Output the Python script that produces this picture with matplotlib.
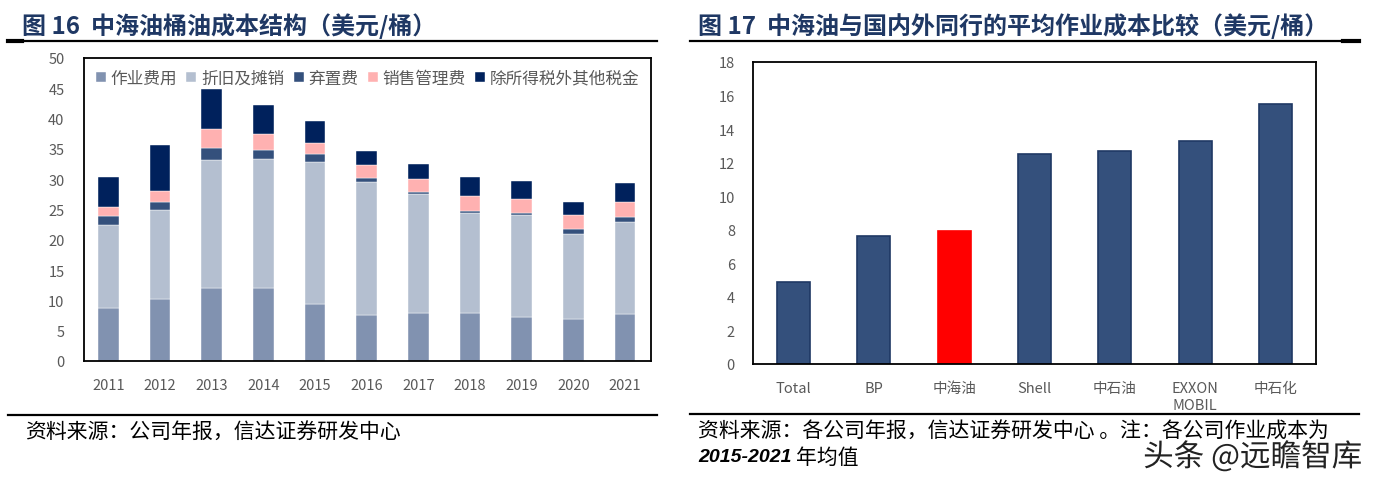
import numpy as np
import matplotlib
matplotlib.use("Agg")
import matplotlib.pyplot as plt
from matplotlib.lines import Line2D
import matplotlib.patheffects as pe

plt.rcParams['font.family'] = ['Noto Sans CJK SC', 'DejaVu Sans']

# 图16 中海油桶油成本结构（美元/桶）
years = ['2011', '2012', '2013', '2014', '2015', '2016', '2017', '2018', '2019', '2020', '2021']
op_cost = [8.8, 10.3, 12.1, 12.0, 9.4, 7.6, 7.9, 8.0, 7.2, 6.9, 7.7]
depreciation = [13.6, 14.6, 21.1, 21.4, 23.5, 22.0, 19.7, 16.4, 16.9, 14.0, 15.3]
abandonment = [1.6, 1.4, 1.9, 1.5, 1.3, 0.6, 0.3, 0.4, 0.4, 0.8, 0.7]
sga = [1.4, 1.7, 3.2, 2.6, 1.8, 2.1, 2.1, 2.4, 2.3, 2.4, 2.5]
other_tax = [5.0, 7.6, 6.6, 4.7, 3.6, 2.3, 2.5, 3.1, 2.9, 2.2, 3.2]
series_names = ['作业费用', '折旧及摊销', '弃置费', '销售管理费', '除所得税外其他税金']

# 图17 平均作业成本比较（美元/桶）
companies = ['Total', 'BP', '中海油', 'Shell', '中石油', 'EXXON\nMOBIL', '中石化']
avg_cost = [4.87, 7.6, 7.9, 12.5, 12.67, 13.32, 15.47]

W, H = 1374, 485
fig = plt.figure(figsize=(W / 100, H / 100), dpi=100)
fig.patch.set_facecolor('white')

def box(x0, y0, x1, y1):
    # 像素框（左上为原点）-> figure 坐标
    return [x0 / W, 1 - y1 / H, (x1 - x0) / W, (y1 - y0) / H]

def hline(x0, x1, y, lw=1.6):
    fig.add_artist(Line2D([x0 / W, x1 / W], [1 - y / H, 1 - y / H],
                          transform=fig.transFigure, color='black', lw=lw))

title_color = '#1F3864'
tick_color = '#595959'

# ---------- 左图 ----------
fig.text(22 / W, 1 - 26 / H, '图 16  中海油桶油成本结构（美元/桶）', fontsize=17.3,
         fontweight='bold', color=title_color, va='center', ha='left')
hline(8, 657, 42)
hline(8, 22, 42, lw=3)

ax1 = fig.add_axes(box(84, 59, 651, 362))
x = np.arange(len(years))
colors1 = ['#8192B0', '#B4BFD0', '#34507C', '#FFB1B1', '#00215C']
bottom = np.zeros(len(years))
for vals, name, c in zip([op_cost, depreciation, abandonment, sga, other_tax], series_names, colors1):
    ax1.bar(x, vals, width=0.4, bottom=bottom, color=c, label=name, edgecolor='white', linewidth=0.3)
    bottom += np.array(vals)
ax1.set_xlim(-0.47, 10.5)
ax1.set_ylim(0, 50)
ax1.set_yticks(range(0, 51, 5))
ax1.set_xticks(x)
ax1.set_xticklabels(years)
ax1.tick_params(length=0, labelsize=10.5, colors=tick_color, pad=12)
ax1.tick_params(axis='y', pad=14)
for s in ax1.spines.values():
    s.set_linewidth(1.3)
    s.set_color('black')
leg = ax1.legend(loc='upper left', ncol=5, frameon=False, fontsize=12,
                 handlelength=0.6, handleheight=0.6, handletextpad=0.3,
                 columnspacing=0.55, borderaxespad=0.3, bbox_to_anchor=(0.0, 1.0))
for t in leg.get_texts():
    t.set_color(tick_color)

hline(8, 657, 416)
fig.text(25 / W, 1 - 432 / H, '资料来源：公司年报，信达证券研发中心', fontsize=15,
         style='italic', va='center', ha='left', color='black')

# ---------- 右图 ----------
fig.text(698 / W, 1 - 26 / H, '图 17  中海油与国内外同行的平均作业成本比较（美元/桶）', fontsize=17.3,
         fontweight='bold', color=title_color, va='center', ha='left')
hline(690, 1359, 42)
hline(1343, 1359, 42, lw=3)

ax2 = fig.add_axes(box(753, 63, 1316, 365))
x2 = np.arange(len(companies))
colors2 = ['#34507C'] * len(companies)
colors2[companies.index('中海油')] = '#FF0000'
edges2 = ['#1F3864'] * len(companies)
edges2[companies.index('中海油')] = '#FF0000'
ax2.bar(x2, avg_cost, width=0.41, color=colors2, edgecolor=edges2, linewidth=1.2)
ax2.set_xlim(-0.5, 6.5)
ax2.set_ylim(0, 18)
ax2.set_yticks(range(0, 19, 2))
ax2.set_xticks(x2)
ax2.set_xticklabels(companies, linespacing=1.3)
ax2.tick_params(length=0, labelsize=10.5, colors=tick_color, pad=12)
ax2.tick_params(axis='y', pad=13)
for s in ax2.spines.values():
    s.set_linewidth(1.3)
    s.set_color('black')

hline(690, 1359, 415)
fig.text(698 / W, 1 - 432 / H, '资料来源：各公司年报，信达证券研发中心 。注：各公司作业成本为', fontsize=15,
         style='italic', va='center', ha='left', color='black')
fig.text(698 / W, 1 - 458 / H, '2015-2021', fontsize=14, style='italic',
         fontweight='bold', family=['Liberation Sans', 'DejaVu Sans'],
         va='center', ha='left', color='black')
fig.text(796 / W, 1 - 458 / H, '年均值', fontsize=15, va='center', ha='left', color='black')

fig.text(1362 / W, 1 - 458 / H, '头条 @远瞻智库', fontsize=22, color='#222222',
         va='center', ha='right',
         path_effects=[pe.withStroke(linewidth=3, foreground='white')])

fig.savefig('out.png', dpi=100, facecolor='white')
